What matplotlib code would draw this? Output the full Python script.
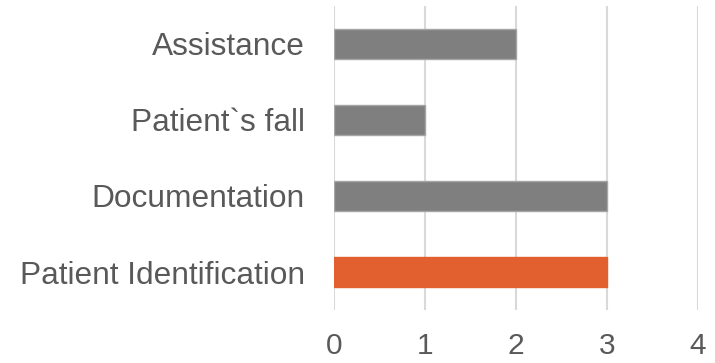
import matplotlib
matplotlib.use("Agg")
import matplotlib.pyplot as plt

categories = ["Patient Identification", "Documentation", "Patient`s fall", "Assistance"]
values = [3, 3, 1, 2]
bar_colors = ["#e2602f", "#7f7f7f", "#7f7f7f", "#7f7f7f"]
edge_colors = ["#e2602f", "#a6a6a6", "#a6a6a6", "#a6a6a6"]
x_ticks = [0, 1, 2, 3, 4]

plt.rcParams["font.family"] = ["Liberation Sans", "DejaVu Sans"]

fig = plt.figure(figsize=(7.15, 3.63), dpi=100)
ax = fig.add_axes([0.4667, 0.146, 0.5095, 0.8375])

ypos = list(range(len(categories)))
ax.barh(ypos, values, height=0.395, color=bar_colors, edgecolor=edge_colors,
        linewidth=1.0, zorder=3)

ax.set_xlim(0, 4)
ax.set_ylim(-0.5, len(categories) - 0.5)
ax.set_xticks(x_ticks)
ax.set_xticklabels([str(t) for t in x_ticks])
ax.set_yticks(ypos)
ax.set_yticklabels(categories)

ax.grid(axis="x", color="#d9d9d9", linewidth=1.5, zorder=0)
ax.grid(axis="y", visible=False)
for s in ax.spines.values():
    s.set_visible(False)

ax.tick_params(axis="y", length=0, pad=21, labelsize=22.8, labelcolor="#595959")
ax.tick_params(axis="x", length=0, pad=16, labelsize=21.5, labelcolor="#595959")

fig.savefig("out.png", dpi=100)
